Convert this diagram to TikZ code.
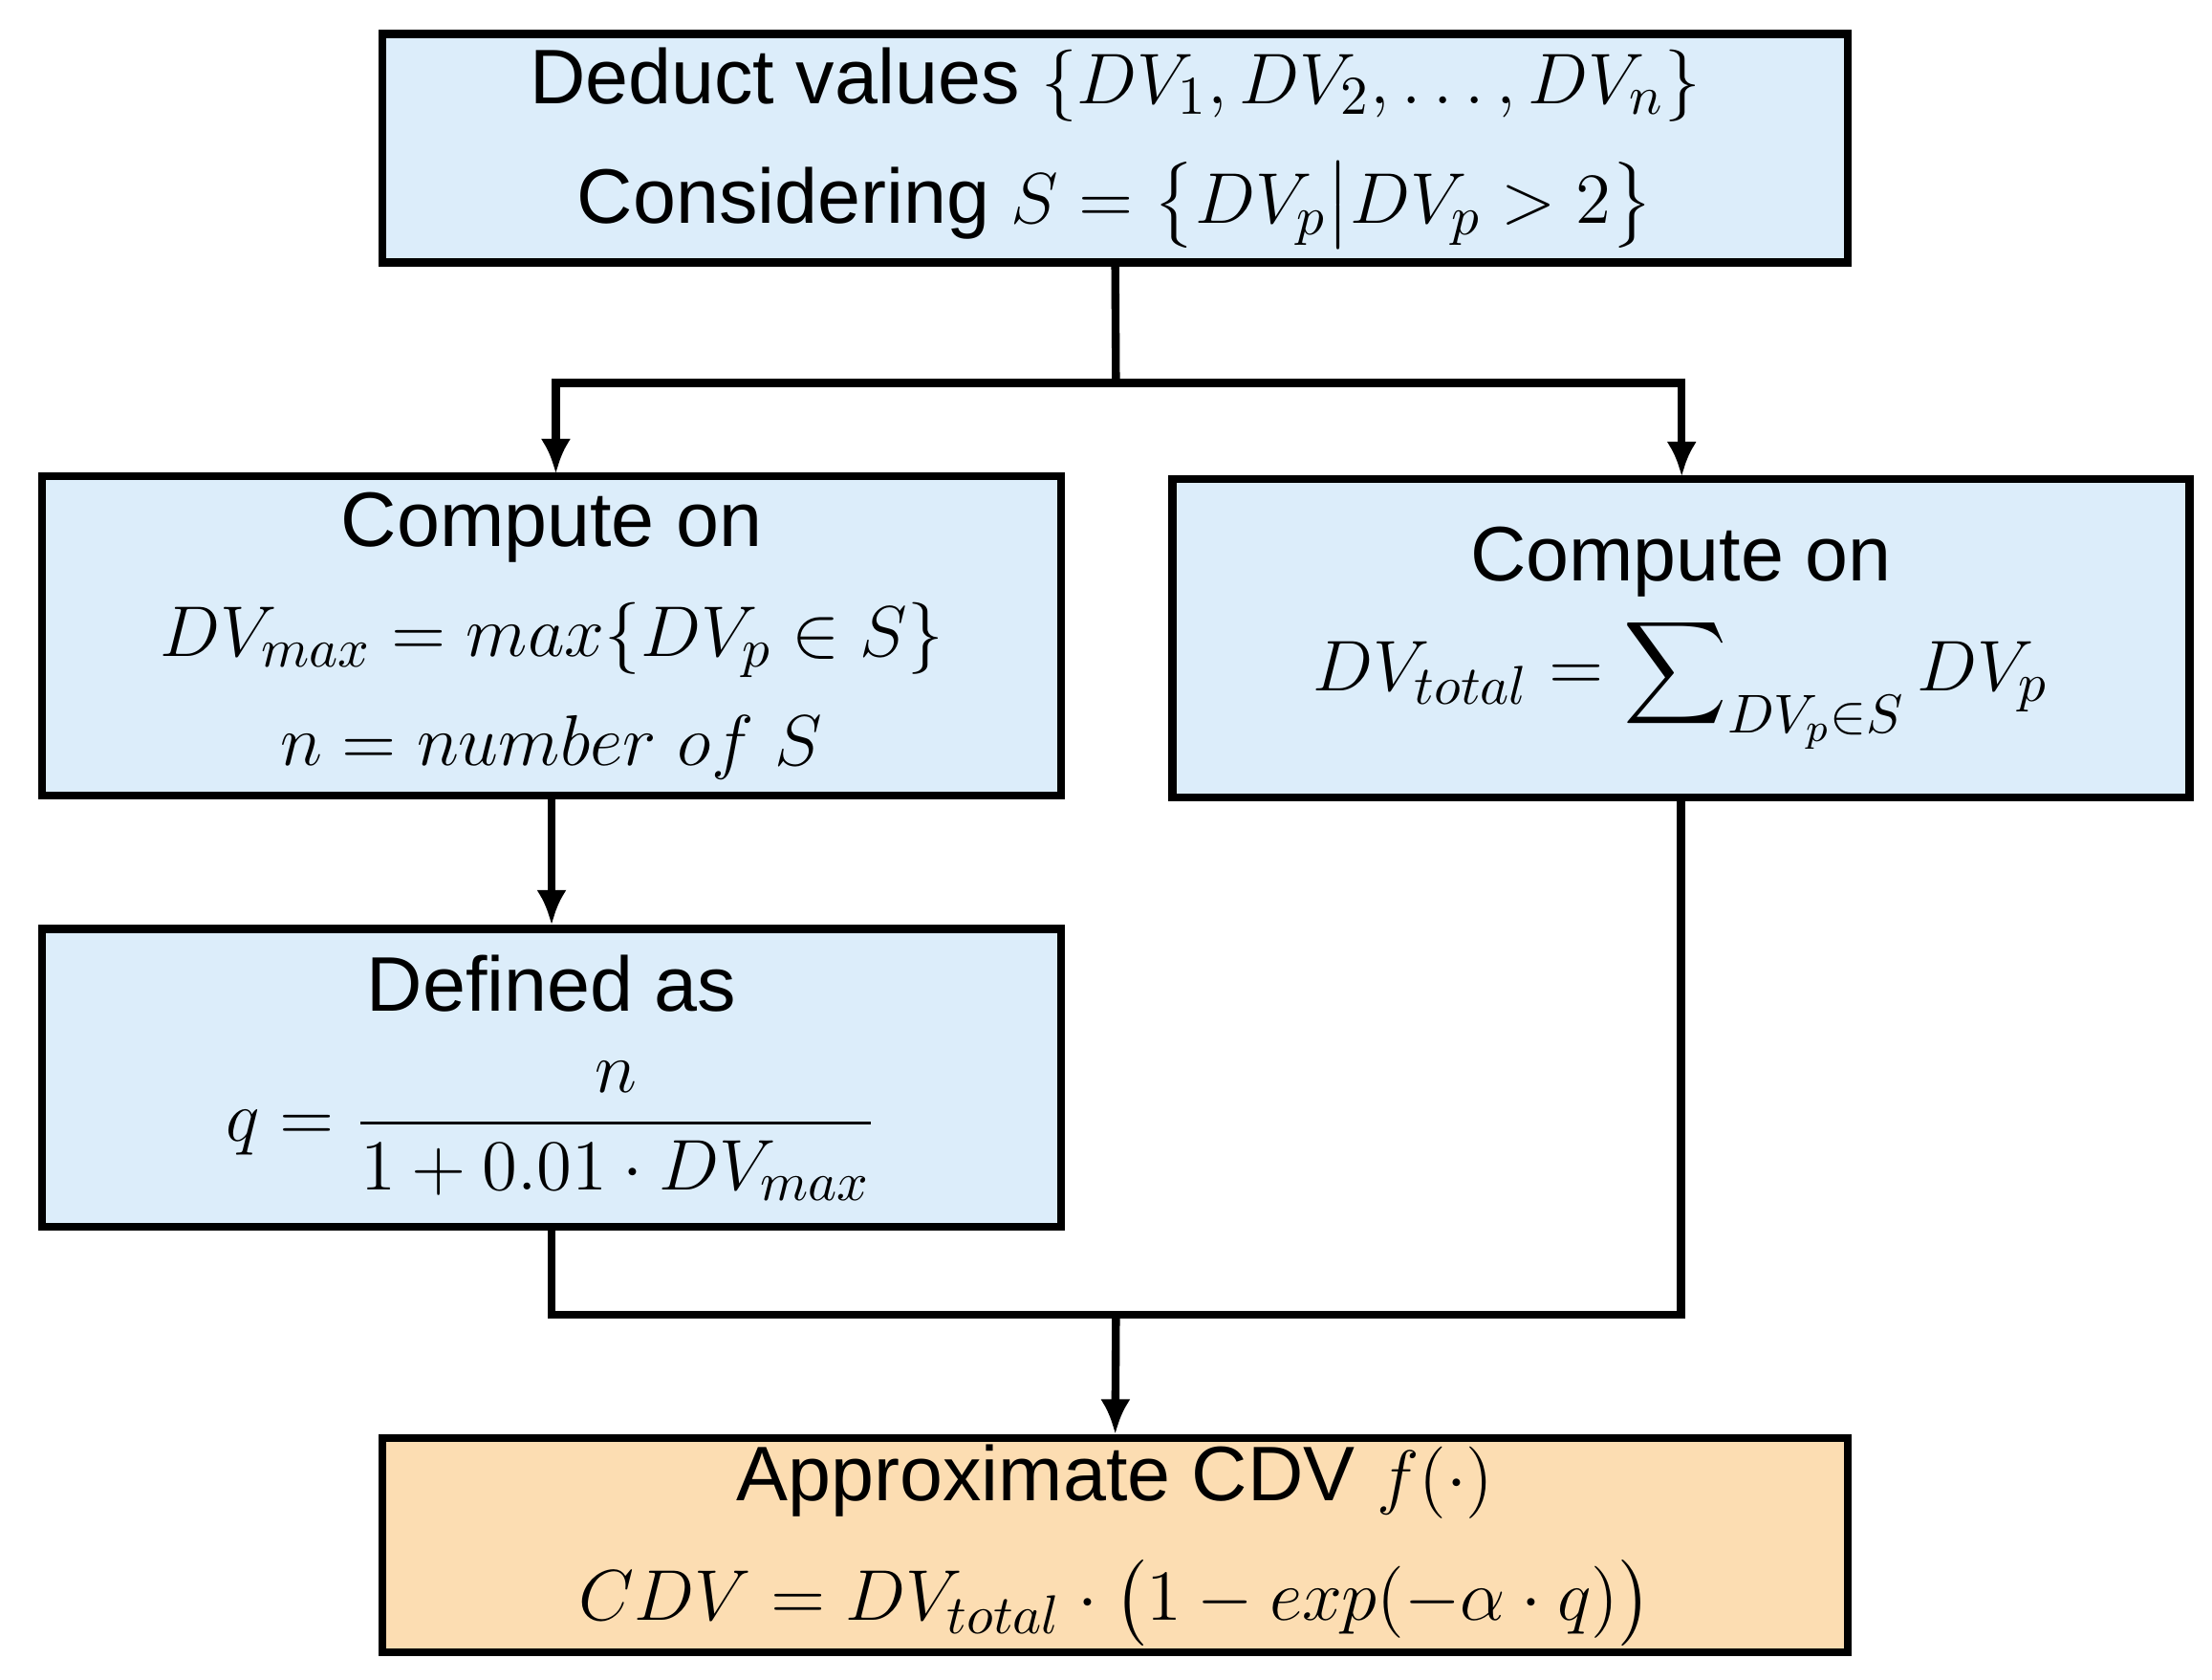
\documentclass[tikz,border=0pt]{standalone}
\usepackage{fontspec}
\setmainfont{Liberation Sans}
\usepackage{amsmath}
\usetikzlibrary{arrows.meta}
\begin{document}
\begin{tikzpicture}[x=0.01cm,y=-0.01cm,
  box/.style={draw=black,line width=1.6pt,align=center,inner sep=0pt,font=\fontsize{15.5}{22}\selectfont},
  conn/.style={line width=1.6pt},
  arr/.style={conn,-{Latex[length=7pt,width=6pt]}}]
\useasboundingbox (0,0) rectangle (1560,1184);
\definecolor{lb}{HTML}{DCEDFA}\definecolor{lo}{HTML}{FCDDB2}
\node[box,fill=lb,minimum width=10.33cm,minimum height=1.61cm] (top) at (786.5,104.5)
 {Deduct values $\{DV_1,DV_2,\dots,DV_n\}$\\[2pt]Considering $S=\bigl\{DV_p\big|DV_p>2\bigr\}$};
\node[box,fill=lb,minimum width=7.18cm,minimum height=2.25cm] (l1) at (389,448.5)
 {Compute on\\$DV_{max}=max\{DV_p\in S\}$\\$n=number\ of\ S$};
\node[box,fill=lb,minimum width=7.17cm,minimum height=2.24cm] (r1) at (1185.5,450)
 {Compute on\\$DV_{total}=\displaystyle\sum\nolimits_{DV_p\in S}DV_p$};
\node[box,fill=lb,minimum width=7.18cm,minimum height=2.10cm] (l2) at (389,760)
 {Defined as\\[4pt]$q=\dfrac{n}{1+0.01\cdot DV_{max}}$};
\node[box,fill=lo,minimum width=10.33cm,minimum height=1.51cm] (bot) at (786.5,1089.5)
 {Approximate CDV $f(\cdot)$\\[2pt]$CDV=DV_{total}\cdot\bigl(1-exp(-\alpha\cdot q)\bigr)$};
\coordinate (s) at (787,270);
\coordinate (m) at (787,927);
\draw[conn] (top.south) -- (s);
\draw[arr] (s) -| (392,334);
\draw[arr] (s) -| (1186,336);
\draw[arr] (l1.south) -- (l2.north);
\draw[conn] (l2.south) |- (m) -| (r1.south);
\draw[arr] (m) -- (bot.north);
\end{tikzpicture}
\end{document}
